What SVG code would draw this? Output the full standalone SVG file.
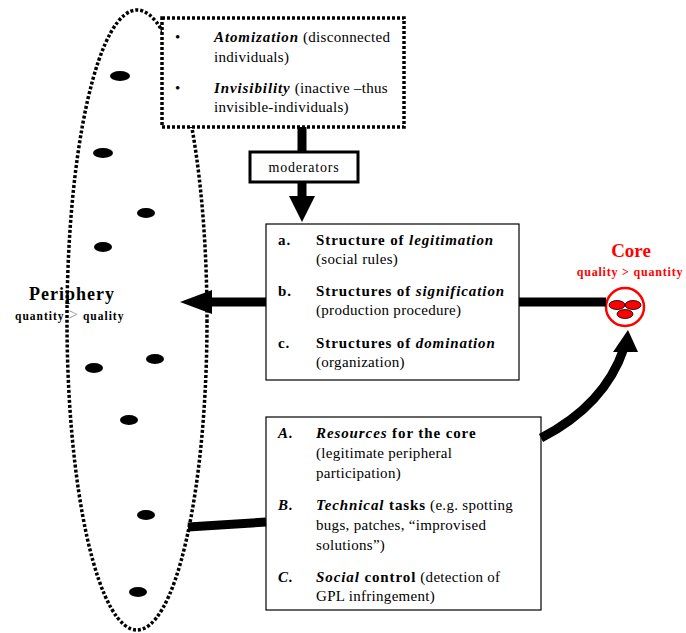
<svg xmlns="http://www.w3.org/2000/svg" width="686" height="633" viewBox="0 0 686 633">
<style>
text{font-family:"Liberation Serif","DejaVu Serif","Noto Serif",serif}
.t{font-size:15px;fill:#000}
.r{letter-spacing:0.3px}
.s14{font-size:14px;letter-spacing:0.8px}
.b{font-weight:bold;letter-spacing:0.9px}
.i{font-style:italic}
.box{fill:#fff;stroke:#000;stroke-width:1.2}
.dot{fill:#000}
.thick{stroke:#000;stroke-width:9;fill:none}
.red{fill:#ff0000;font-weight:bold}
</style>
<rect width="686" height="633" fill="#fff"/>
<g id="periphery">
<ellipse cx="137" cy="320" rx="70" ry="310" fill="none" stroke="#000" stroke-width="3.5" stroke-dasharray="3 2"/>
<ellipse class="dot" cx="120" cy="76" rx="10" ry="5"/>
<ellipse class="dot" cx="103" cy="153" rx="10" ry="5"/>
<ellipse class="dot" cx="146" cy="213" rx="9" ry="5"/>
<ellipse class="dot" cx="103" cy="247" rx="9" ry="5"/>
<ellipse class="dot" cx="155" cy="359" rx="9" ry="5"/>
<ellipse class="dot" cx="94" cy="368" rx="9" ry="5"/>
<ellipse class="dot" cx="129" cy="420" rx="9" ry="5"/>
<ellipse class="dot" cx="146" cy="515" rx="9" ry="5"/>
<ellipse class="dot" cx="138" cy="592" rx="9" ry="5"/>
<text x="72" y="300" text-anchor="middle" style="font-size:18px;font-weight:bold;letter-spacing:1px">Periphery</text>
<text x="15" y="320" style="font-size:11.5px;font-weight:bold;letter-spacing:1px">quantity <tspan style="font-size:17px;font-weight:normal;fill:#999">&gt;</tspan> quality</text>
</g>
<g id="barriers">
<rect x="162" y="18" width="242" height="109" fill="#fff" stroke="#000" stroke-width="3.5" stroke-dasharray="3 2"/>
<text class="t" x="175" y="42">•</text>
<text class="t r" x="214" y="42"><tspan class="b i">Atomization</tspan> (disconnected</text>
<text class="t r" x="214" y="62">individuals)</text>
<text class="t" x="175" y="93">•</text>
<text class="t r" x="214" y="93"><tspan class="b i">Invisibility</tspan> (inactive –thus</text>
<text class="t r" x="214" y="112">invisible-individuals)</text>
</g>
<g id="moderators">
<rect x="250" y="152" width="108" height="30" fill="#fff" stroke="#000" stroke-width="3"/>
<text class="s14" x="304" y="172" text-anchor="middle">moderators</text>
</g>
<g id="structures">
<rect class="box" x="266" y="224" width="253" height="156"/>
<text class="t b" x="278" y="245">a.</text>
<text class="t b" x="316" y="245">Structure of <tspan class="i">legitimation</tspan></text>
<text class="t r" x="316" y="264">(social rules)</text>
<text class="t b" x="278" y="296">b.</text>
<text class="t b" x="316" y="296">Structures of <tspan class="i">signification</tspan></text>
<text class="t r" x="316" y="315">(production procedure)</text>
<text class="t b" x="278" y="348">c.</text>
<text class="t b" x="316" y="348">Structures of <tspan class="i">domination</tspan></text>
<text class="t r" x="316" y="367">(organization)</text>
</g>
<g id="contributions">
<rect class="box" x="266" y="417" width="275" height="193"/>
<text class="t b i" x="278" y="438">A.</text>
<text class="t" x="316" y="438"><tspan class="b i">Resources</tspan><tspan class="b"> for the core</tspan></text>
<text class="t r" x="316" y="458">(legitimate peripheral</text>
<text class="t r" x="316" y="478">participation)</text>
<text class="t b i" x="278" y="510">B.</text>
<text class="t" x="316" y="510"><tspan class="b i">Technical</tspan><tspan class="b"> tasks</tspan><tspan class="r"> (e.g. spotting</tspan></text>
<text class="t r" x="316" y="530">bugs, patches, “improvised</text>
<text class="t r" x="316" y="550">solutions”)</text>
<text class="t b i" x="278" y="582">C.</text>
<text class="t" x="316" y="582"><tspan class="b i">Social</tspan><tspan class="b"> control</tspan><tspan class="r"> (detection of</tspan></text>
<text class="t r" x="316" y="601">GPL infringement)</text>
</g>
<g id="core">
<text class="red" x="631" y="257" text-anchor="middle" style="font-size:19px">Core</text>
<text class="red" x="630" y="276" text-anchor="middle" style="font-size:12px;letter-spacing:0.8px">quality &gt; quantity</text>
<circle cx="625" cy="307" r="19" fill="#fff" stroke="#ff0000" stroke-width="2.5"/>
<ellipse cx="617" cy="305" rx="8" ry="4.5" fill="#ff0000" stroke="#000" stroke-width="0.8"/>
<ellipse cx="633" cy="305" rx="8" ry="4.5" fill="#ff0000" stroke="#000" stroke-width="0.8"/>
<ellipse cx="625" cy="314" rx="8" ry="4.5" fill="#ff0000" stroke="#000" stroke-width="0.8"/>
</g>
<g id="connectors">
<line class="thick" x1="302" y1="127" x2="302" y2="152"/>
<line class="thick" x1="302" y1="182" x2="302" y2="198"/>
<polygon points="289,196 315,196 302,222" fill="#000"/>
<line class="thick" x1="266" y1="302" x2="205" y2="302"/>
<polygon points="180,302 212,290 212,314" fill="#000"/>
<line class="thick" x1="519" y1="302" x2="606" y2="302"/>
<line class="thick" x1="188" y1="527" x2="266" y2="522"/>
<path class="thick" d="M541,438 Q605,405 624,348"/>
<polygon points="628,330 613,352 638,352" fill="#000"/>
</g>
</svg>
